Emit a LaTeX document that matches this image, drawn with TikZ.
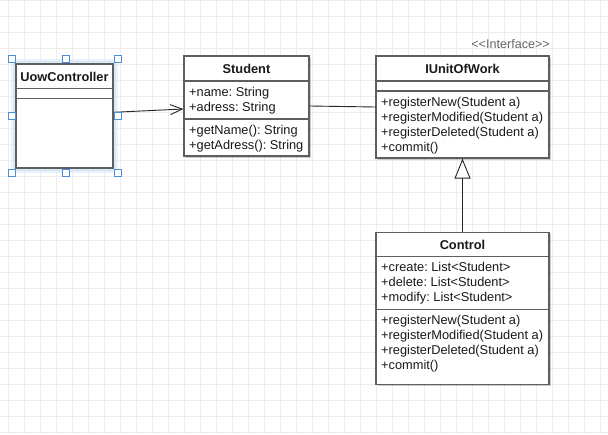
\documentclass[tikz,border=0pt]{standalone}
\usepackage{fontspec}
\setmainfont{Liberation Sans}
\usetikzlibrary{arrows.meta,shadows}
\definecolor{gridc}{HTML}{EDEDED}
\definecolor{boxc}{HTML}{5E5E5E}
\definecolor{selc}{HTML}{4A8FDB}
\definecolor{glowc}{HTML}{D3E4F7}
\tikzset{
  classbox/.style={draw=boxc,line width=1.2pt,fill=white,inner sep=0pt,
    drop shadow={shadow xshift=2pt,shadow yshift=-2pt,opacity=.2,fill=black}},
  sepline/.style={draw=boxc,line width=1.2pt},
  member/.style={anchor=base west,inner sep=0pt,font=\fontsize{12.8}{15}\selectfont,text=black!90},
  ctitle/.style={anchor=base,inner sep=0pt,font=\fontsize{12.8}{15}\selectfont\bfseries,text=black!90},
  stereo/.style={anchor=base east,inner sep=0pt,font=\fontsize{12.6}{15}\selectfont,text=black!60},
  handle/.style={draw=selc,fill=white,line width=0.8pt,minimum size=7pt,inner sep=0pt},
  conn/.style={draw=black!85,line width=0.9pt}
}
\begin{document}
\frenchspacing
\begin{tikzpicture}[x=1pt,y=-1pt]
\useasboundingbox (0,0) rectangle (608,434);
\fill[white] (0,0) rectangle (608,434);
% grid
\foreach \x in {8,24,...,600} \draw[gridc,line width=0.7pt] (\x,0) -- (\x,434);
\foreach \y in {0,16,...,432} \draw[gridc,line width=0.7pt] (0,\y) -- (608,\y);

% selection glow
\draw[glowc,line width=10pt,opacity=.45] (16,64) rectangle (113,168);
\draw[glowc,line width=6pt,opacity=.7] (16,64) rectangle (113,168);

% UowController
\node[draw=boxc,line width=1.2pt,fill=white,inner sep=0pt,minimum width=97pt,minimum height=104pt] (uow) at (64.5,116) {};
\draw[sepline] (16,88.7) -- (113,88.7);
\draw[sepline] (16,98.7) -- (113,98.7);
\node[ctitle] (uow-t) at (64.5,81) {UowController};

% Student
\node[classbox,minimum width=125pt,minimum height=100pt] (st) at (246.5,106) {};
\draw[sepline] (184,81) -- (309,81);
\draw[sepline] (184,119) -- (309,119);
\node[ctitle] (st-t) at (246.5,73) {Student};
\node[member] (st-a1) at (189,96) {+name: String};
\node[member] (st-a2) at (189,111) {+adress: String};
\node[member] (st-m1) at (189,134) {+getName(): String};
\node[member] (st-m2) at (189,149) {+getAdress(): String};

% IUnitOfWork
\node[stereo] (iu-s) at (550,48.5) {{<}{<}Interface{>}{>}};
\node[classbox,minimum width=173pt,minimum height=102pt] (iu) at (462.5,107) {};
\draw[sepline] (376,81) -- (549,81);
\draw[sepline] (376,91) -- (549,91);
\node[ctitle] (iu-t) at (462.5,73) {IUnitOfWork};
\node[member] (iu-m1) at (381,106) {+registerNew(Student a)};
\node[member] (iu-m2) at (381,121) {+registerModified(Student a)};
\node[member] (iu-m3) at (381,136) {+registerDeleted(Student a)};
\node[member] (iu-m4) at (381,151) {+commit()};

% Control
\node[classbox,minimum width=173pt,minimum height=152pt] (ct) at (462.5,308.3) {};
\draw[sepline] (376,256.7) -- (549,256.7);
\draw[sepline] (376,309.3) -- (549,309.3);
\node[ctitle] (ct-t) at (462.5,249.2) {Control};
\node[member] (ct-a1) at (381,271.7) {+create: List{<}Student{>}};
\node[member] (ct-a2) at (381,286.7) {+delete: List{<}Student{>}};
\node[member] (ct-a3) at (381,301.7) {+modify: List{<}Student{>}};
\node[member] (ct-m1) at (381,324.3) {+registerNew(Student a)};
\node[member] (ct-m2) at (381,339.3) {+registerModified(Student a)};
\node[member] (ct-m3) at (381,354.3) {+registerDeleted(Student a)};
\node[member] (ct-m4) at (381,369.3) {+commit()};

% connectors
\draw[conn,-{Straight Barb[length=12pt,width=10pt,line width=0.9pt]}] ([yshift=3.7pt]uow.east) -- ([yshift=-3pt]st.west);
\draw[conn] (st.east) -- (iu.west);
\draw[conn,-{Triangle[open,length=20pt,width=16pt,fill=white]}] (ct.north) -- (iu.south);

% selection handles
\node[handle] (h1) at (11.7,58.7) {};
\node[handle] (h2) at (65.5,58.7) {};
\node[handle] (h3) at (118.3,58.7) {};
\node[handle] (h4) at (11.7,116.3) {};
\node[handle] (h5) at (118.3,116.3) {};
\node[handle] (h6) at (11.7,173.3) {};
\node[handle] (h7) at (65.5,173.3) {};
\node[handle] (h8) at (118.3,173.3) {};
\end{tikzpicture}
\end{document}
